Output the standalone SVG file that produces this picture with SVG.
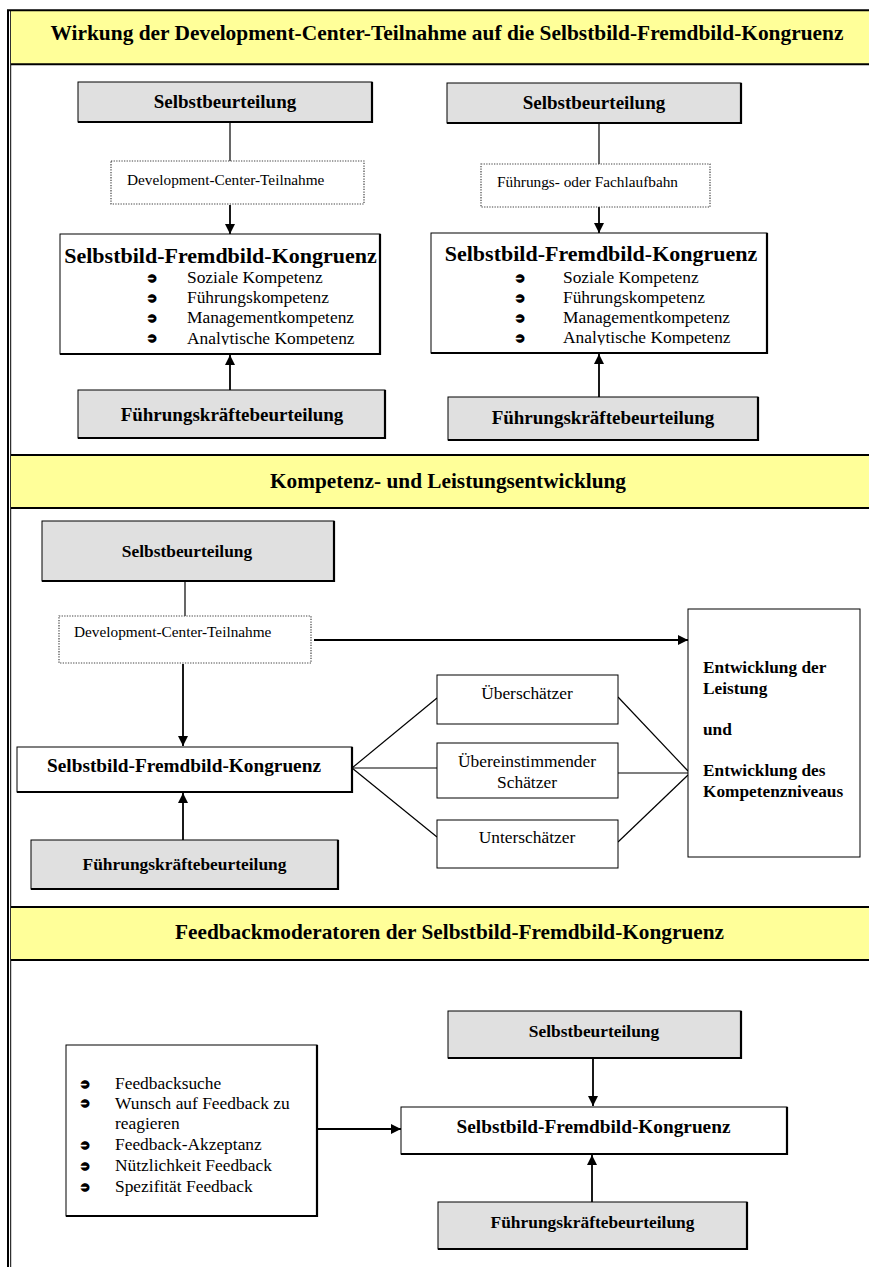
<svg xmlns="http://www.w3.org/2000/svg" width="869" height="1267" viewBox="0 0 869 1267">
<defs>
<style>
text{font-family:"Liberation Serif","Times New Roman",serif;fill:#000}
.hdr{font-size:21px;font-weight:bold;text-anchor:middle}
.band{fill:#ffff99}
.bline{stroke:#000;stroke-width:2;fill:none}
.gray{fill:#e0e0e0;stroke:#000;stroke-width:1}
.white{fill:#fff;stroke:#000;stroke-width:1}
.shadow{fill:none;stroke:#000;stroke-width:2.2}
.dot{fill:#fff;stroke:#444;stroke-width:1.2;stroke-dasharray:1.3 1.3}
.lblL{font-size:19px;font-weight:bold;text-anchor:middle}
.lbl{font-size:17.4px;font-weight:bold;text-anchor:middle}
.tL{font-size:22px;font-weight:bold;text-anchor:middle}
.t{font-size:19.3px;font-weight:bold;text-anchor:middle}
.reg{font-size:17.4px}
.regc{font-size:17.4px;text-anchor:middle}
.dtx{font-size:15.3px}
.bul{font-family:"DejaVu Sans",sans-serif;font-size:12px;stroke:#000;stroke-width:1.6;paint-order:stroke}
.big{font-size:17.3px;font-weight:bold}
.conn line{stroke:#000;stroke-width:1.2}
.conn line.a{stroke-width:1.8}
</style>
<marker id="ah" markerUnits="userSpaceOnUse" markerWidth="10" markerHeight="10" refX="10" refY="5" orient="auto" viewBox="0 0 10 10">
<path d="M0,0 L10,5 L0,10 z" fill="#000"/>
</marker>
<clipPath id="clipL"><rect x="60" y="234" width="320" height="111"/></clipPath>
<clipPath id="clipR"><rect x="431" y="233" width="336" height="112"/></clipPath>
</defs>
<rect x="0" y="0" width="869" height="1267" fill="#fff"/>

<!-- frame -->
<g id="frame">
<line x1="8" y1="10" x2="8" y2="1267" stroke="#000" stroke-width="2"/>
<line x1="10.7" y1="10" x2="10.7" y2="1267" stroke="#000" stroke-width="1"/>
</g>

<!-- headers -->
<g id="header1">
<rect class="band" x="11" y="11" width="858" height="53"/>
<line class="bline" x1="7" y1="10.3" x2="869" y2="10.3"/>
<line class="bline" x1="11" y1="64.3" x2="869" y2="64.3"/>
<text class="hdr" x="447" y="39.5" textLength="793" lengthAdjust="spacingAndGlyphs">Wirkung der Development-Center-Teilnahme auf die Selbstbild-Fremdbild-Kongruenz</text>
</g>
<g id="header2">
<rect class="band" x="11" y="455" width="858" height="53"/>
<line class="bline" x1="11" y1="455" x2="869" y2="455"/>
<line class="bline" x1="11" y1="508" x2="869" y2="508"/>
<text class="hdr" x="448" y="488" textLength="356" lengthAdjust="spacingAndGlyphs">Kompetenz- und Leistungsentwicklung</text>
</g>
<g id="header3">
<rect class="band" x="11" y="907" width="858" height="53"/>
<line class="bline" x1="11" y1="907" x2="869" y2="907"/>
<line class="bline" x1="11" y1="960" x2="869" y2="960"/>
<text class="hdr" x="449.5" y="939" textLength="549" lengthAdjust="spacingAndGlyphs">Feedbackmoderatoren der Selbstbild-Fremdbild-Kongruenz</text>
</g>

<!-- connectors -->
<g id="connectors" class="conn">
<line x1="230" y1="122" x2="230" y2="161"/>
<line class="a" x1="230" y1="205" x2="230" y2="234" marker-end="url(#ah)"/>
<line class="a" x1="230" y1="390" x2="230" y2="355" marker-end="url(#ah)"/>
<line x1="599" y1="123" x2="599" y2="164"/>
<line class="a" x1="599" y1="207" x2="599" y2="233" marker-end="url(#ah)"/>
<line class="a" x1="599" y1="397" x2="599" y2="354" marker-end="url(#ah)"/>
<line x1="185" y1="581" x2="185" y2="616"/>
<line class="a" x1="314" y1="640" x2="688" y2="640" marker-end="url(#ah)"/>
<line class="a" x1="183" y1="664" x2="183" y2="746" marker-end="url(#ah)"/>
<line class="a" x1="183" y1="840" x2="183" y2="793" marker-end="url(#ah)"/>
<line x1="352" y1="768" x2="437" y2="698"/>
<line x1="352" y1="768" x2="437" y2="768"/>
<line x1="352" y1="768" x2="437" y2="837"/>
<line x1="618" y1="697" x2="688" y2="771"/>
<line x1="618" y1="773" x2="688" y2="773"/>
<line x1="618" y1="842" x2="688" y2="775"/>
<line class="a" x1="317" y1="1129" x2="401" y2="1129" marker-end="url(#ah)"/>
<line class="a" x1="593" y1="1058" x2="593" y2="1106" marker-end="url(#ah)"/>
<line class="a" x1="592" y1="1202" x2="592" y2="1155" marker-end="url(#ah)"/>
</g>

<!-- Section 1 left -->
<g id="s1l-selbst">
<rect class="gray" x="78" y="82" width="294" height="40"/>
<path class="shadow" d="M78,122 H372 V82"/>
<text class="lblL" x="225" y="108">Selbstbeurteilung</text>
</g>
<g id="s1l-dc">
<rect class="dot" x="111" y="161" width="253" height="43"/>
<text class="dtx" x="127" y="185">Development-Center-Teilnahme</text>
</g>
<g id="s1l-kongruenz">
<rect class="white" x="60" y="234" width="320" height="120"/>
<path class="shadow" d="M60,354 H380 V234"/>
<text class="tL" x="220.5" y="263">Selbstbild-Fremdbild-Kongruenz</text>
<g clip-path="url(#clipL)">
<text class="bul" x="147" y="282">➲</text>
<text class="reg" x="187" y="283">Soziale Kompetenz</text>
<text class="bul" x="147" y="302">➲</text>
<text class="reg" x="187" y="303">Führungskompetenz</text>
<text class="bul" x="147" y="322">➲</text>
<text class="reg" x="187" y="323">Managementkompetenz</text>
<text class="bul" x="147" y="342">➲</text>
<text class="reg" x="187" y="343.5">Analytische Kompetenz</text>
</g>
</g>
<g id="s1l-fuehrung">
<rect class="gray" x="78" y="390" width="307" height="48"/>
<path class="shadow" d="M78,438 H385 V390"/>
<text class="lblL" x="232" y="421">Führungskräftebeurteilung</text>
</g>

<!-- Section 1 right -->
<g id="s1r-selbst">
<rect class="gray" x="447" y="83" width="294" height="40"/>
<path class="shadow" d="M447,123 H741 V83"/>
<text class="lblL" x="594" y="109">Selbstbeurteilung</text>
</g>
<g id="s1r-laufbahn">
<rect class="dot" x="481" y="164" width="229" height="43"/>
<text class="dtx" x="497" y="187">Führungs- oder Fachlaufbahn</text>
</g>
<g id="s1r-kongruenz">
<rect class="white" x="431" y="233" width="336" height="120"/>
<path class="shadow" d="M431,353 H767 V233"/>
<text class="tL" x="601" y="261">Selbstbild-Fremdbild-Kongruenz</text>
<g clip-path="url(#clipR)">
<text class="bul" x="515" y="282">➲</text>
<text class="reg" x="563" y="283">Soziale Kompetenz</text>
<text class="bul" x="515" y="302">➲</text>
<text class="reg" x="563" y="303">Führungskompetenz</text>
<text class="bul" x="515" y="322">➲</text>
<text class="reg" x="563" y="323">Managementkompetenz</text>
<text class="bul" x="515" y="342">➲</text>
<text class="reg" x="563" y="343">Analytische Kompetenz</text>
</g>
</g>
<g id="s1r-fuehrung">
<rect class="gray" x="448" y="397" width="310" height="43"/>
<path class="shadow" d="M448,440 H758 V397"/>
<text class="lblL" x="603" y="424">Führungskräftebeurteilung</text>
</g>

<!-- Section 2 -->
<g id="s2-selbst">
<rect class="gray" x="42" y="521" width="292" height="60"/>
<path class="shadow" d="M42,581 H334 V521"/>
<text class="lbl" x="187" y="557">Selbstbeurteilung</text>
</g>
<g id="s2-dc">
<rect class="dot" x="59" y="616" width="252" height="47"/>
<text class="dtx" x="74" y="637">Development-Center-Teilnahme</text>
</g>
<g id="s2-kongruenz">
<rect class="white" x="17" y="747" width="335" height="45"/>
<path class="shadow" d="M17,792 H352 V747"/>
<text class="t" x="184" y="772">Selbstbild-Fremdbild-Kongruenz</text>
</g>
<g id="s2-fuehrung">
<rect class="gray" x="31" y="840" width="307" height="49"/>
<path class="shadow" d="M31,889 H338 V840"/>
<text class="lbl" x="184.5" y="870">Führungskräftebeurteilung</text>
</g>
<g id="s2-ueber">
<rect class="white" x="437" y="675" width="181" height="49"/>
<text class="regc" x="527" y="699">Überschätzer</text>
</g>
<g id="s2-uebereinst">
<rect class="white" x="437" y="743" width="181" height="55"/>
<text class="regc" x="527" y="767">Übereinstimmender</text>
<text class="regc" x="527" y="788">Schätzer</text>
</g>
<g id="s2-unter">
<rect class="white" x="437" y="820" width="181" height="48"/>
<text class="regc" x="527" y="843">Unterschätzer</text>
</g>
<g id="s2-entwicklung">
<rect class="white" x="688" y="609" width="172" height="248"/>
<text class="big" x="703" y="673">Entwicklung der</text>
<text class="big" x="703" y="694">Leistung</text>
<text class="big" x="703" y="735">und</text>
<text class="big" x="703" y="776">Entwicklung des</text>
<text class="big" x="703" y="797">Kompetenzniveaus</text>
</g>

<!-- Section 3 -->
<g id="s3-moderatoren">
<rect class="white" x="66" y="1045" width="251" height="171"/>
<path class="shadow" d="M66,1216 H317 V1045"/>
<text class="bul" x="80" y="1088">➲</text>
<text class="reg" x="115" y="1089">Feedbacksuche</text>
<text class="bul" x="80" y="1107">➲</text>
<text class="reg" x="115" y="1108.5">Wunsch auf Feedback zu</text>
<text class="reg" x="115" y="1129">reagieren</text>
<text class="bul" x="80" y="1149">➲</text>
<text class="reg" x="115" y="1150">Feedback-Akzeptanz</text>
<text class="bul" x="80" y="1170">➲</text>
<text class="reg" x="115" y="1171">Nützlichkeit Feedback</text>
<text class="bul" x="80" y="1191">➲</text>
<text class="reg" x="115" y="1192">Spezifität Feedback</text>
</g>
<g id="s3-selbst">
<rect class="gray" x="448" y="1011" width="293" height="47"/>
<path class="shadow" d="M448,1058 H741 V1011"/>
<text class="lbl" x="594" y="1037">Selbstbeurteilung</text>
</g>
<g id="s3-kongruenz">
<rect class="white" x="401" y="1107" width="386" height="47"/>
<path class="shadow" d="M401,1154 H787 V1107"/>
<text class="t" x="593.5" y="1133">Selbstbild-Fremdbild-Kongruenz</text>
</g>
<g id="s3-fuehrung">
<rect class="gray" x="438" y="1202" width="309" height="47"/>
<path class="shadow" d="M438,1249 H747 V1202"/>
<text class="lbl" x="592.5" y="1228">Führungskräftebeurteilung</text>
</g>
</svg>
